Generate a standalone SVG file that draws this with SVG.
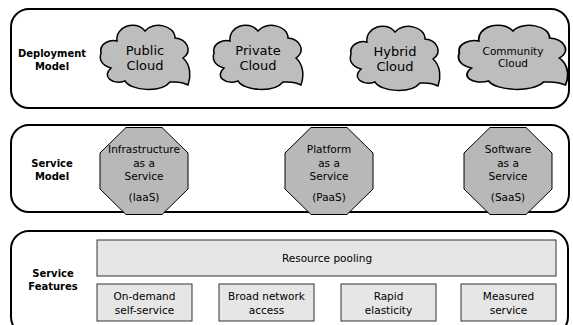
<svg xmlns="http://www.w3.org/2000/svg" width="573" height="325" viewBox="0 0 573 325">
<style>
.panel{fill:#fff;stroke:#000;stroke-width:2}
.lbl{font-family:"DejaVu Sans",sans-serif;font-weight:bold;font-size:10px;text-anchor:middle;fill:#000}
.cloud{fill:#bdbdbd;stroke:#000;stroke-width:1.5}
.oct{fill:#b8b8b8;stroke:#000;stroke-width:1}
.box{fill:#e6e6e6;stroke:#333;stroke-width:1}
.t13{font-family:"DejaVu Sans",sans-serif;font-size:13px;text-anchor:middle;fill:#000}
.t10{font-family:"DejaVu Sans",sans-serif;font-size:10.5px;text-anchor:middle;fill:#000}
</style>
<defs>
<path id="cloudShape" d="M -44,-2 C -46,-12 -34,-16 -28,-14 C -30,-28 -10,-36 0,-24 C 8,-34 30,-30 30,-17 C 42,-16 48,-4 38,3 C 46,10 46,22 43,30 C 36,26 30,27 25,27 C 16,38 -14,36 -20,26 C -32,30 -44,22 -34,13 C -44,10 -46,4 -44,-2 Z"/>
<polygon id="octShape" points="-18,-43.5 18,-43.5 44,-18 44,18 18,43.5 -18,43.5 -44,18 -44,-18"/>
</defs>
<g id="panel-deployment">
<rect class="panel" x="11" y="9" width="558" height="99" rx="18"/>
<text class="lbl" x="52" y="57">Deployment</text>
<text class="lbl" x="52" y="70">Model</text>
</g>
<g id="panel-service-model">
<rect class="panel" x="11" y="125" width="558" height="87" rx="18"/>
<text class="lbl" x="52" y="167">Service</text>
<text class="lbl" x="52" y="180">Model</text>
</g>
<g id="panel-service-features">
<rect class="panel" x="11" y="231" width="557" height="104" rx="18"/>
<text class="lbl" x="53" y="277">Service</text>
<text class="lbl" x="53" y="290">Features</text>
</g>
<g id="public-cloud">
<use href="#cloudShape" class="cloud" transform="translate(145,55)"/>
<text class="t13" x="145" y="55">Public</text>
<text class="t13" x="145" y="70">Cloud</text>
</g>
<g id="private-cloud">
<use href="#cloudShape" class="cloud" transform="translate(258,55)"/>
<text class="t13" x="258" y="55">Private</text>
<text class="t13" x="258" y="70">Cloud</text>
</g>
<g id="hybrid-cloud">
<use href="#cloudShape" class="cloud" transform="translate(395,56)"/>
<text class="t13" x="395" y="56">Hybrid</text>
<text class="t13" x="395" y="71">Cloud</text>
</g>
<g id="community-cloud">
<use href="#cloudShape" class="cloud" transform="translate(513,55) scale(1.22,1)"/>
<text class="t10" x="513" y="55">Community</text>
<text class="t10" x="513" y="67">Cloud</text>
</g>
<g id="iaas">
<use href="#octShape" class="oct" transform="translate(144,171)"/>
<text class="t10" x="144" y="153">Infrastructure</text>
<text class="t10" x="144" y="167">as a</text>
<text class="t10" x="144" y="180">Service</text>
<text class="t10" x="144" y="201">(IaaS)</text>
</g>
<g id="paas">
<use href="#octShape" class="oct" transform="translate(329,171)"/>
<text class="t10" x="329" y="153">Platform</text>
<text class="t10" x="329" y="167">as a</text>
<text class="t10" x="329" y="180">Service</text>
<text class="t10" x="329" y="201">(PaaS)</text>
</g>
<g id="saas">
<use href="#octShape" class="oct" transform="translate(508,171)"/>
<text class="t10" x="508" y="153">Software</text>
<text class="t10" x="508" y="167">as a</text>
<text class="t10" x="508" y="180">Service</text>
<text class="t10" x="508" y="201">(SaaS)</text>
</g>
<g id="resource-pooling">
<rect class="box" x="97" y="240" width="459" height="36"/>
<text class="t10" x="327" y="262">Resource pooling</text>
</g>
<g id="on-demand">
<rect class="box" x="97" y="284" width="95" height="37"/>
<text class="t10" x="144.5" y="300">On-demand</text>
<text class="t10" x="144.5" y="314">self-service</text>
</g>
<g id="broad-network">
<rect class="box" x="219" y="284" width="95" height="37"/>
<text class="t10" x="266.5" y="300">Broad network</text>
<text class="t10" x="266.5" y="314">access</text>
</g>
<g id="rapid-elasticity">
<rect class="box" x="341" y="284" width="95" height="37"/>
<text class="t10" x="388.5" y="300">Rapid</text>
<text class="t10" x="388.5" y="314">elasticity</text>
</g>
<g id="measured-service">
<rect class="box" x="461" y="284" width="95" height="37"/>
<text class="t10" x="508.5" y="300">Measured</text>
<text class="t10" x="508.5" y="314">service</text>
</g>
<g id="connectors"></g>
</svg>
